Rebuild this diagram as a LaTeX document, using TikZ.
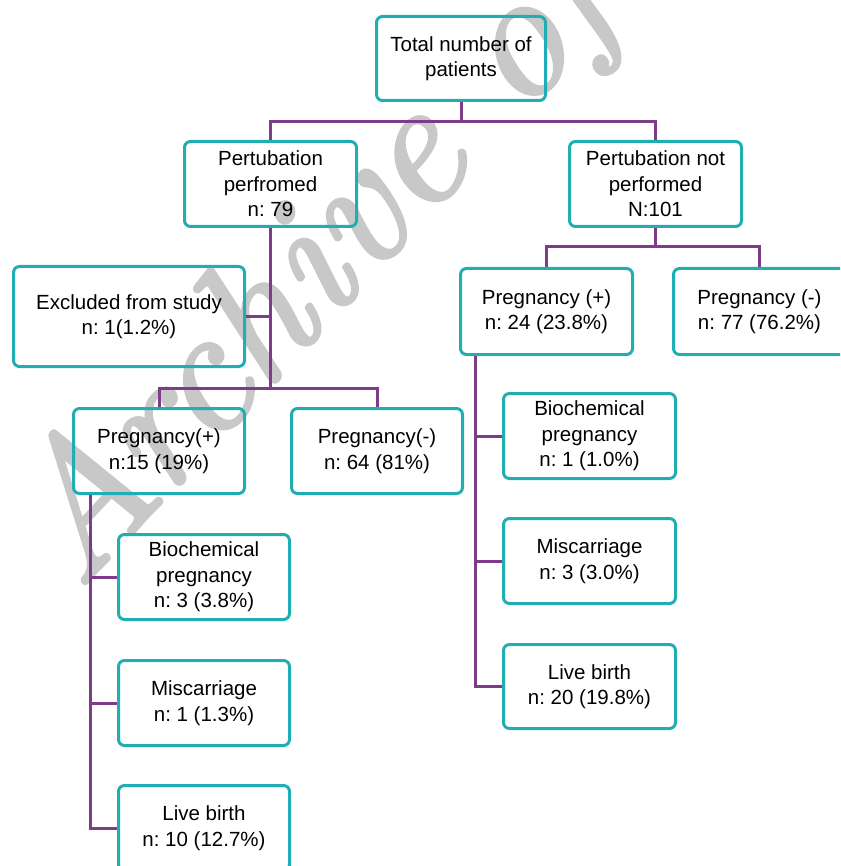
\documentclass[tikz,border=0pt]{standalone}
\usepackage{fontspec}
\setmainfont{Liberation Sans}
\newfontfamily\wmfont{lmroman10-italic.otf}[FakeBold=2]
\definecolor{boxteal}{RGB}{32,174,178}
\definecolor{linkpurple}{RGB}{125,60,135}
\definecolor{wmgray}{RGB}{200,200,200}
\frenchspacing
\begin{document}
\begin{tikzpicture}[x=1pt,y=-1pt,
  box/.style={draw=boxteal, line width=3pt, rounded corners=6pt,
    align=center, inner sep=0pt, font=\fontsize{20.5}{25.5}\selectfont},
  link/.style={draw=linkpurple, line width=3pt}]
\useasboundingbox (0,0) rectangle (840,866);
\clip (0,0) rectangle (840,866);
% watermark (behind everything)
\node[anchor=base west, rotate=47, inner sep=0pt, text=wmgray,
  font=\wmfont\fontsize{179}{179}\selectfont] (wm) at (78,592) {Archive of};
% nodes
\node[box, minimum width=169pt, minimum height=84pt] (total) at (461,58.5) {Total number of\\patients};
\node[box, minimum width=172pt, minimum height=85pt] (pp) at (270.5,184) {Pertubation\\perfromed\\n: 79};
\node[box, minimum width=172pt, minimum height=85pt] (pnp) at (655.5,184) {Pertubation not\\performed\\N:101};
\node[box, minimum width=231pt, minimum height=100pt] (excl) at (129,316.5) {Excluded from study\\n: 1(1.2\%)};
\node[box, minimum width=171pt, minimum height=85pt] (lpos) at (159,451) {Pregnancy(+)\\n:15 (19\%)};
\node[box, minimum width=171pt, minimum height=85pt] (lneg) at (377,451) {Pregnancy(-)\\n: 64 (81\%)};
\node[box, minimum width=172pt, minimum height=86pt] (rpos) at (546.5,311.5) {Pregnancy (+)\\n: 24 (23.8\%)};
\node[box, minimum width=172pt, minimum height=86pt] (rneg) at (759.5,311.5) {Pregnancy (-)\\n: 77 (76.2\%)};
\node[box, minimum width=171pt, minimum height=85pt] (lbio) at (204,577) {Biochemical\\pregnancy\\n: 3 (3.8\%)};
\node[box, minimum width=171pt, minimum height=85pt] (lmis) at (204,703) {Miscarriage\\n: 1 (1.3\%)};
\node[box, minimum width=171pt, minimum height=85pt] (llive) at (204,828) {Live birth\\n: 10 (12.7\%)};
\node[box, minimum width=172pt, minimum height=85pt] (rbio) at (589.5,436) {Biochemical\\pregnancy\\n: 1 (1.0\%)};
\node[box, minimum width=172pt, minimum height=85pt] (rmis) at (589.5,561) {Miscarriage\\n: 3 (3.0\%)};
\node[box, minimum width=172pt, minimum height=84pt] (rlive) at (589.5,686.5) {Live birth\\n: 20 (19.8\%)};
% junction coordinates
\coordinate (j1) at (461,122);
\coordinate (j2) at (270.5,388);
\coordinate (j3) at (655.5,247);
\coordinate (lt) at (90,495);
\coordinate (rt) at (475,356);
% connectors
\path[link] (total.south) -- (j1);
\path[link] (pp.north) |- (j1) -| (pnp.north);
\path[link] (pp.south) -- (j2);
\path[link] (excl.east) -- (excl.east -| j2);
\path[link] (lpos.north) |- (j2) -| (lneg.north);
\path[link] (pnp.south) -- (j3);
\path[link] (rpos.north) |- (j3) -| (rneg.north);
\path[link] (lt) |- (llive.west);
\path[link] (lbio.west) -- (lbio.west -| lt);
\path[link] (lmis.west) -- (lmis.west -| lt);
\path[link] (rt) |- (rlive.west);
\path[link] (rbio.west) -- (rbio.west -| rt);
\path[link] (rmis.west) -- (rmis.west -| rt);
\end{tikzpicture}
\end{document}
